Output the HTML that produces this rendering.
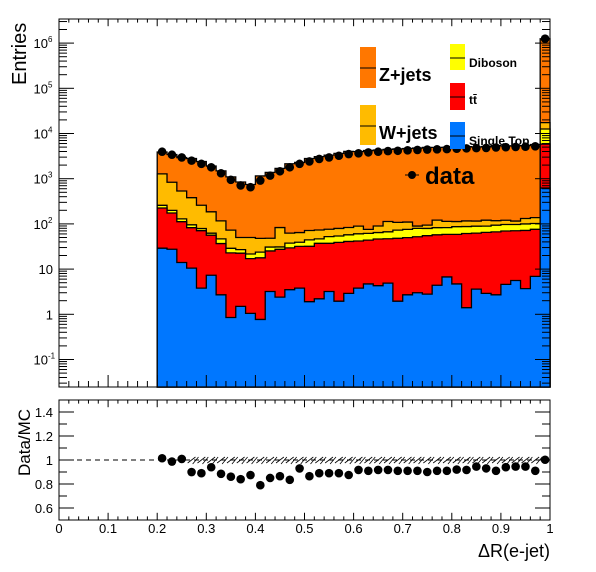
<!DOCTYPE html>
<html><head><meta charset="utf-8"><style>
html,body{margin:0;padding:0;background:#fff;}
svg{display:block;font-family:"Liberation Sans",Arial,sans-serif;}
</style></head><body>
<svg id="c" width="596" height="572" viewBox="0 0 596 572" xmlns="http://www.w3.org/2000/svg">
<rect x="0" y="0" width="596" height="572" fill="#fff"/>
<g id="main"></g>
<g id="ratio"></g>
<g id="legend">
  <rect x="360" y="47" width="16" height="41" fill="#ff7700"/>
  <line x1="360" y1="68" x2="376" y2="68" stroke="#000"/>
  <text x="379" y="81" font-size="18" font-weight="bold">Z+jets</text>
  <rect x="360" y="105" width="16" height="40" fill="#ffbb00"/>
  <line x1="360" y1="126" x2="376" y2="126" stroke="#000"/>
  <text x="379" y="139" font-size="18" font-weight="bold">W+jets</text>
  <rect x="450" y="44" width="15" height="26" fill="#ffff00"/>
  <line x1="450" y1="58" x2="465" y2="58" stroke="#000"/>
  <text x="469" y="67" font-size="12" font-weight="bold">Diboson</text>
  <rect x="450" y="83" width="15" height="27" fill="#ff0000"/>
  <line x1="450" y1="97" x2="465" y2="97" stroke="#000"/>
  <text x="469" y="104" font-size="12" font-weight="bold">tt̄</text>
  <rect x="450" y="122" width="15" height="27" fill="#0077ff"/>
  <line x1="450" y1="136" x2="465" y2="136" stroke="#000"/>
  <text x="469" y="145" font-size="12" font-weight="bold">Single Top</text>
  <line x1="405" y1="175" x2="419" y2="175" stroke="#000"/>
  <circle cx="412" cy="175" r="4" fill="#000"/>
  <text x="425" y="184" font-size="24" font-weight="bold">data</text>
</g>
<text transform="translate(26,85) rotate(-90)" font-size="20">Entries</text>
<text transform="translate(30,476) rotate(-90)" font-size="17">Data/MC</text>
<text x="550" y="557" font-size="18" text-anchor="end">ΔR(e-jet)</text>
</svg>
<script>
const binLow = [0.20,0.22,0.24,0.26,0.28,0.30,0.32,0.34,0.36,0.38,0.40,0.42,0.44,0.46,0.48,0.50,0.52,0.54,0.56,0.58,0.60,0.62,0.64,0.66,0.68,0.70,0.72,0.74,0.76,0.78,0.80,0.82,0.84,0.86,0.88,0.90,0.92,0.94,0.96,0.98];
const binWidth = 0.02;
const singleTop = [29,27.5,14,10.5,3.8,7.3,2.7,0.85,1.5,1.05,0.77,3.2,2.4,3.5,3.8,1.9,2.2,3.2,1.95,2.9,3.8,4.7,4.3,4.9,1.95,2.7,3.0,2.8,4.4,6.7,4.7,1.4,3.6,2.9,2.7,4.6,5.6,3.7,6.9,620];
const ttbar = [196,147,98,72,67,49,34,22,21,16,17,22,25,26,28,30,35,34,37,38,38,39,42,42,46,47,49,52,53,52,54,60,59,62,64,65,65,68,69,5220];
const diboson = [33,25,17,13,8,6,10,6,4.5,4.5,6,5.5,3.5,8,7.5,12.5,9.5,15,15,16.5,18.5,18,18,20,25,26,27.5,24.5,25,24,28,26,26.5,24.5,27,27.5,26.5,28,26,6760];
const wjets = [1020,635,405,285,180,123,70,44,23,28.5,24,17.5,52,25,25,27,26.5,24,25.5,26,29,14,25.5,46,35,34,10,14.5,39,31,26,29,26.5,31.5,24,23.5,18.5,32,36,4800];
const zjets = [2615,2600,2400,2410,2135,1720,1375,1025,795,693,1104,1328,1605,2082,2226,2715,3006,3250,3538,3928,3879,4122,4218,4336,4452,4549,4668,4817,4780,4854,4887,4998,4910,5040,5267,5177,5228,5265,5576,1230000];
const data = [3950,3390,2960,2510,2130,1790,1320,945,710,650,910,1170,1460,1790,2130,2410,2740,2960,3220,3510,3640,3820,3950,4080,4150,4240,4330,4420,4460,4520,4600,4690,4750,4800,4900,4980,5050,5100,5200,1250000];
const xTickLabels = ["0","0.1","0.2","0.3","0.4","0.5","0.6","0.7","0.8","0.9","1"];
const ratioTickLabels = ["0.6","0.8","1","1.2","1.4"];

const NS="http://www.w3.org/2000/svg";
const X0=59,X1=550,MT=19,MB=387,RT=400,RB=520;
function xs(v){return X0+v*(X1-X0);}
function ys(v){if(v<=0)return MB;const y=314.3-45.2*Math.log10(v);return Math.min(MB,Math.max(MT,y));}
function yr(r){return 460-(r-1)*120;}
function mk(tag,attrs,parent){const e=document.createElementNS(NS,tag);for(const k in attrs)e.setAttribute(k,attrs[k]);parent.appendChild(e);return e;}
const main=document.getElementById('main'),ratio=document.getElementById('ratio');

let fr=mk('rect',{x:X0,y:MT,width:X1-X0,height:MB-MT,fill:'none',stroke:'#000'},main);



const comps=[singleTop,ttbar,diboson,wjets,zjets];
const colors=['#0077ff','#ff0000','#ffff00','#ffbb00','#ff7700'];
const names=['singletop','ttbar','diboson','wjets','zjets'];
const cum=[];
for(let c=0;c<comps.length;c++){cum.push(binLow.map((_,i)=>comps[c][i]+(c>0?cum[c-1][i]:0)));}
for(let c=comps.length-1;c>=0;c--){
  let d='M'+xs(binLow[0])+','+MB;
  binLow.forEach((b,i)=>{const y=ys(cum[c][i]);d+=' L'+xs(b)+','+y+' L'+xs(b+binWidth)+','+y;});
  d+=' L'+xs(binLow[binLow.length-1]+binWidth)+','+MB+' Z';
  const p=mk('path',{d:d,fill:colors[c],stroke:'#000','stroke-width':1.3},main);
  
  
}
binLow.forEach((b,i)=>{
  const cx=xs(b+binWidth/2),cy=ys(data[i]);const e=Math.sqrt(data[i]);
  const l=mk('line',{x1:cx,x2:cx,y1:ys(data[i]+e),y2:ys(data[i]-e),stroke:'#000'},main);
  
  
  const m=mk('circle',{cx:cx,cy:cy,r:4.3,fill:'#000'},main);
  
  
});
for(let p=-2;p<=6;p++){
  for(let k=1;k<=9;k++){
    const v=k*Math.pow(10,p);const y=314.3-45.2*Math.log10(v);
    if(y<MT||y>MB)continue;const L=k==1?15:8;
    mk('line',{x1:X0,x2:X0+L,y1:y,y2:y,stroke:'#000'},main);
    mk('line',{x1:X1,x2:X1-L,y1:y,y2:y,stroke:'#000'},main);
  }
}
const ylab=[[-1,'10','-1'],[0,'1',''],[1,'10',''],[2,'10','2'],[3,'10','3'],[4,'10','4'],[5,'10','5'],[6,'10','6']];
ylab.forEach(a=>{
  const y=314.3-45.2*a[0];
  const t=mk('text',{x:a[2]?48:53,y:y+5,'font-size':13,'text-anchor':'end'},main);
  t.textContent=a[1];
  
  
  if(a[2]){const s=mk('text',{x:48,y:y-1,'font-size':8},main);s.textContent=a[2];
    
    }
});
for(let i=0;i<=50;i++){
  const x=xs(i*0.02);const L=i%5==0?12:6;
  mk('line',{x1:x,x2:x,y1:MB,y2:MB-L,stroke:'#000'},main);
  mk('line',{x1:x,x2:x,y1:MT,y2:MT+L*0.6,stroke:'#000'},main);
  mk('line',{x1:x,x2:x,y1:RB,y2:RB-L*0.6,stroke:'#000'},ratio);
  mk('line',{x1:x,x2:x,y1:RT,y2:RT+L*0.6,stroke:'#000'},ratio);
}
fr=mk('rect',{x:X0,y:RT,width:X1-X0,height:RB-RT,fill:'none',stroke:'#000'},ratio);


for(let i=0;i<=10;i++){const r=0.5+i*0.1;const y=yr(r);const L=i%2==1?15:8;
  mk('line',{x1:X0,x2:X0+L,y1:y,y2:y,stroke:'#000'},ratio);
  mk('line',{x1:X1,x2:X1-L,y1:y,y2:y,stroke:'#000'},ratio);}
ratioTickLabels.forEach(s=>{const t=mk('text',{x:53,y:yr(parseFloat(s))+5,'font-size':13,'text-anchor':'end'},ratio);t.textContent=s;
  
  });
xTickLabels.forEach((s,i)=>{const t=mk('text',{x:xs(i*0.1),y:533,'font-size':13,'text-anchor':'middle'},ratio);t.textContent=s;
  
  });
const dl=mk('line',{x1:X0,x2:X1,y1:yr(1),y2:yr(1),stroke:'#000','stroke-dasharray':'5,4'},ratio);


binLow.forEach((b,i)=>{
  const mc=cum[4][i];const r=data[i]/mc;
  if(i>=3&&i<39){const h=mk('path',{d:'M'+(xs(b)+1)+','+(yr(1)+3)+' L'+(xs(b+binWidth)-1)+','+(yr(1)-3)+' M'+(xs(b)+6)+','+(yr(1)+4)+' L'+(xs(b+binWidth)+2)+','+(yr(1)-3),stroke:'#000','stroke-width':0.8,fill:'none'},ratio);
    
    }
  const m=mk('circle',{cx:xs(b+binWidth/2),cy:yr(r),r:4.3,fill:'#000'},ratio);
  
  
});
</script>
</body></html>
